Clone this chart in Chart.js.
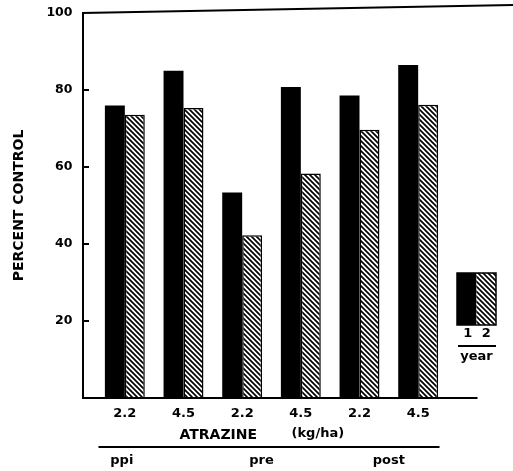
<!DOCTYPE html>
<html>
<head>
<meta charset="utf-8">
<script src="https://cdn.jsdelivr.net/npm/chart.js@4.4.1/dist/chart.umd.min.js"></script>
<style>
  body { margin: 0; background: #fff; }
  #chart { display: block; }
</style>
</head>
<body>
<canvas id="chart" width="513" height="471"></canvas>
<script>
// atrazine rate (kg/ha) for each bar pair, and the timing groups underneath
var doseLabels = ['2.2', '4.5', '2.2', '4.5', '2.2', '4.5'];
var timingLabels = ['ppi', 'pre', 'post'];
// percent control
var year1 = [76, 85, 53.4, 80.8, 78.6, 86.5];
var year2 = [73.6, 75.3, 42.3, 58.3, 69.7, 76.2];
var yearLabels = ['1', '2'];
var yTicks = [20, 40, 60, 80, 100];

var FONT = '"DejaVu Sans", "Liberation Sans", sans-serif';

// diagonal hatch for year 2
function makeHatch() {
  var s = 5;
  var c = document.createElement('canvas');
  c.width = s; c.height = s;
  var g = c.getContext('2d');
  g.fillStyle = '#fff';
  g.fillRect(0, 0, s, s);
  g.strokeStyle = '#000';
  g.lineWidth = 1.7;
  g.beginPath();
  g.moveTo(-1, -1); g.lineTo(s + 1, s + 1);
  g.moveTo(-1, s - 1); g.lineTo(1, s + 1);
  g.moveTo(s - 1, -1); g.lineTo(s + 1, 1);
  g.stroke();
  return g.createPattern(c, 'repeat');
}
var hatch = makeHatch();

var extras = {
  id: 'extras',
  afterDraw: function (chart) {
    var ctx = chart.ctx;
    var xs = chart.scales.x, ys = chart.scales.y;
    var area = chart.chartArea;
    var axisX = area.left - 12.5;
    var y0 = ys.getPixelForValue(0);
    var yTop = ys.getPixelForValue(100);
    ctx.save();
    ctx.strokeStyle = '#000';
    ctx.lineWidth = 2;
    ctx.beginPath();
    ctx.moveTo(axisX, yTop); ctx.lineTo(axisX, y0);
    ctx.moveTo(axisX - 1, y0); ctx.lineTo(area.right + 30, y0);
    ctx.moveTo(axisX - 1, yTop); ctx.lineTo(chart.width, yTop - 8);
    yTicks.forEach(function (v) {
      if (v === 100) return;
      var py = ys.getPixelForValue(v);
      ctx.moveTo(axisX, py); ctx.lineTo(axisX + 6, py);
    });
    ctx.stroke();

    // axis caption and timing groups
    ctx.fillStyle = '#000';
    ctx.textBaseline = 'middle';
    ctx.textAlign = 'left';
    ctx.font = 'bold 14px ' + FONT;
    ctx.fillText('ATRAZINE', area.left + 84, 435);
    ctx.font = 'bold 13px ' + FONT;
    ctx.fillText('(kg/ha)', area.left + 196, 434);
    ctx.beginPath();
    ctx.moveTo(area.left + 3, 447); ctx.lineTo(area.left + 344, 447);
    ctx.stroke();
    ctx.textAlign = 'center';
    var gx = [
      xs.getPixelForValue(0) - 3,
      (xs.getPixelForValue(2) + xs.getPixelForValue(3)) / 2 - 10,
      (xs.getPixelForValue(4) + xs.getPixelForValue(5)) / 2
    ];
    timingLabels.forEach(function (t, i) { ctx.fillText(t, gx[i], 461); });

    // legend box
    var lx = area.right + 9.5, ly = 273, bw = 19.5, bh = 52;
    var ds = chart.data.datasets;
    ctx.fillStyle = ds[0].backgroundColor;
    ctx.fillRect(lx, ly, bw, bh);
    ctx.fillStyle = ds[1].backgroundColor;
    ctx.fillRect(lx + bw, ly, bw, bh);
    ctx.lineWidth = 1.5;
    ctx.strokeRect(lx, ly, bw * 2, bh);
    ctx.fillStyle = '#000';
    ctx.fillText(yearLabels[0], lx + bw / 2 + 1, 334);
    ctx.fillText(yearLabels[1], lx + bw * 1.5, 334);
    ctx.lineWidth = 2;
    ctx.beginPath();
    ctx.moveTo(lx + 1, 346); ctx.lineTo(lx + bw * 2, 346);
    ctx.stroke();
    ctx.fillText('year', lx + bw, 357);
    ctx.restore();
  }
};

new Chart(document.getElementById('chart').getContext('2d'), {
  type: 'bar',
  data: {
    labels: doseLabels,
    datasets: [{
      label: 'year 1',
      data: year1,
      backgroundColor: '#000',
      borderWidth: 0
    }, {
      label: 'year 2',
      data: year2,
      backgroundColor: hatch,
      borderColor: '#000',
      borderWidth: 1.5
    }]
  },
  options: {
    responsive: false,
    animation: false,
    events: [],
    layout: { padding: { top: 13, right: 65.5, bottom: 0, left: 0 } },
    datasets: { bar: { categoryPercentage: 0.68, barPercentage: 1 } },
    plugins: { legend: { display: false }, tooltip: { enabled: false } },
    scales: {
      x: {
        grid: { display: false, drawTicks: false },
        border: { display: false },
        ticks: { color: '#000', padding: 8, maxRotation: 0, font: { family: FONT, size: 13, weight: 'bold' } },
        afterFit: function (s) { s.height = 73; }
      },
      y: {
        min: 0, max: 100,
        // tick marks are drawn by the plugin; tickLength only pushes the labels left
        grid: { display: false, drawTicks: true, tickLength: 22 },
        border: { display: false },
        ticks: {
          stepSize: 20, color: '#000', padding: 1,
          font: { family: FONT, size: 12.5, weight: 'bold' },
          callback: function (v) { return yTicks.indexOf(v) >= 0 ? v : ''; }
        },
        title: {
          display: true, text: 'PERCENT CONTROL', color: '#000',
          padding: { top: 11, bottom: 0 },
          font: { family: FONT, size: 14, weight: 'bold' }
        },
        afterFit: function (s) { s.width = 95.5; }
      }
    }
  },
  plugins: [extras]
});
</script>
</body>
</html>
